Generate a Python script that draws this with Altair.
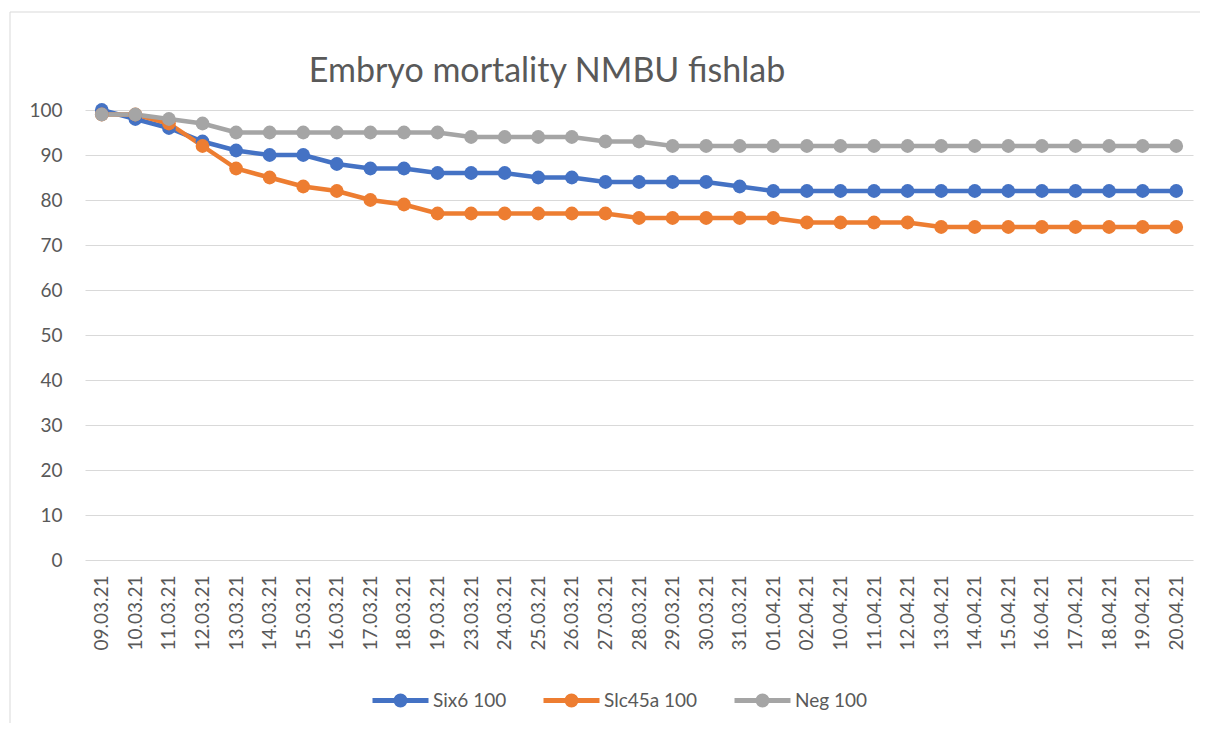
import altair as alt
import pandas as pd

dates = ["09.03.21", "10.03.21", "11.03.21", "12.03.21", "13.03.21", "14.03.21",
         "15.03.21", "16.03.21", "17.03.21", "18.03.21", "19.03.21", "23.03.21",
         "24.03.21", "25.03.21", "26.03.21", "27.03.21", "28.03.21", "29.03.21",
         "30.03.21", "31.03.21", "01.04.21", "02.04.21", "10.04.21", "11.04.21",
         "12.04.21", "13.04.21", "14.04.21", "15.04.21", "16.04.21", "17.04.21",
         "18.04.21", "19.04.21", "20.04.21"]

six6 = [100, 98, 96, 93, 91, 90, 90, 88, 87, 87, 86, 86, 86, 85, 85, 84, 84, 84,
        84, 83, 82, 82, 82, 82, 82, 82, 82, 82, 82, 82, 82, 82, 82]
slc45a = [99, 99, 97, 92, 87, 85, 83, 82, 80, 79, 77, 77, 77, 77, 77, 77, 76, 76,
          76, 76, 76, 75, 75, 75, 75, 74, 74, 74, 74, 74, 74, 74, 74]
neg = [99, 99, 98, 97, 95, 95, 95, 95, 95, 95, 95, 94, 94, 94, 94, 93, 93, 92,
       92, 92, 92, 92, 92, 92, 92, 92, 92, 92, 92, 92, 92, 92, 92]

series_names = ["Six6 100", "Slc45a 100", "Neg 100"]
series_colors = ["#4472C4", "#ED7D31", "#A5A5A5"]
y_ticks = list(range(0, 101, 10))

rows = []
for name, vals in zip(series_names, [six6, slc45a, neg]):
    for d, v in zip(dates, vals):
        rows.append({"date": d, "value": v, "series": name})
df = pd.DataFrame(rows)

FONT = "Lato"
GREY = "#595959"

legend_path = ("M-1,0H1 "
               "M-0.16,0A0.16,0.16 0 1,0 0.16,0A0.16,0.16 0 1,0 -0.16,0Z "
               "M-0.054,0A0.054,0.054 0 1,0 0.054,0A0.054,0.054 0 1,0 -0.054,0Z")

color = alt.Color(
    "series:N",
    scale=alt.Scale(domain=series_names, range=series_colors),
    sort=series_names,
    legend=alt.Legend(
        title=None, orient="none", direction="horizontal",
        legendX=285, legendY=560, padding=0,
        symbolType=legend_path, symbolSize=3136, symbolStrokeWidth=5,
        symbolOpacity=1, labelOffset=2, columnPadding=26,
        labelFont=FONT, labelFontSize=19, labelColor=GREY, labelLimit=300,
    ),
)

x = alt.X("date:N", sort=dates, scale=alt.Scale(type="point", padding=0.5),
          axis=alt.Axis(title=None, labelAngle=-90, labelFont=FONT, labelFontSize=19,
                        labelColor=GREY, ticks=False, domain=False, grid=False,
                        labelPadding=15))
y = alt.Y("value:Q", scale=alt.Scale(domain=[0, 100], nice=False),
          axis=alt.Axis(title=None, values=y_ticks, labelFont=FONT, labelFontSize=19,
                        labelColor=GREY, ticks=False, domain=False, grid=True,
                        gridColor="#D9D9D9", gridWidth=1, labelPadding=23))

base = alt.Chart(df)
lines = base.mark_line(strokeWidth=4.5).encode(x=x, y=y, color=color)
points = base.mark_point(filled=True, size=190, opacity=1).encode(
    x=x, y=y, color=alt.Color("series:N", scale=alt.Scale(domain=series_names, range=series_colors), legend=None))

# chart-area frame: only its left and top edges are inside the picture
frame_data = alt.Data(values=[{"a": 1}])
frame_left = alt.Chart(frame_data).mark_rule(stroke="#D9D9D9", strokeWidth=1).encode(
    x=alt.value(-75), y=alt.value(-98), y2=alt.value(613))
frame_top = alt.Chart(frame_data).mark_rule(stroke="#D9D9D9", strokeWidth=1).encode(
    x=alt.value(-75), x2=alt.value(1115), y=alt.value(-98))

chart = alt.layer(frame_left, frame_top, lines, points).properties(
    width=1108, height=450,
    title=alt.TitleParams("Embryo mortality NMBU fishlab", font=FONT, fontSize=34,
                          fontWeight="normal", color=GREY, anchor="middle",
                          frame="group", dx=-92, offset=0, dy=104, baseline="alphabetic"),
    padding={"left": 77, "top": 102, "right": 7, "bottom": 163},
    autosize=alt.AutoSizeParams(type="none"),
).configure_view(stroke=None)

chart.save("out.html", embed_options={"renderer": "svg", "actions": False})
